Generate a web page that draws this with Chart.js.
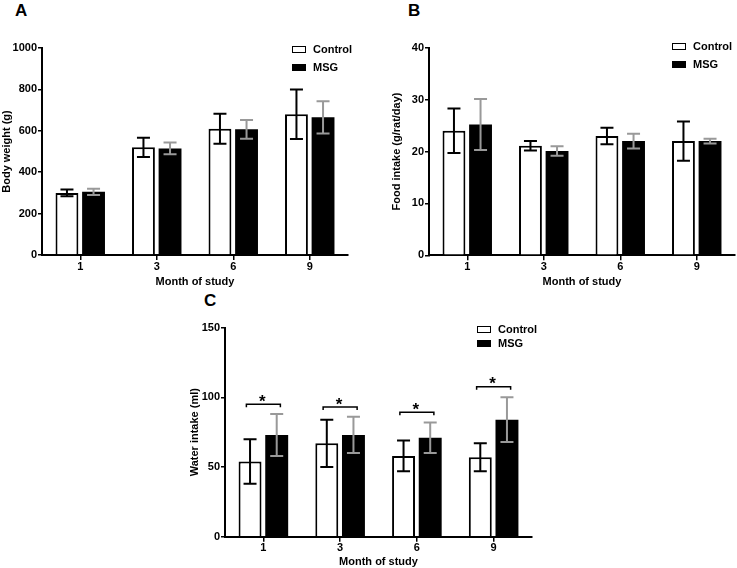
<!DOCTYPE html>
<html>
<head>
<meta charset="utf-8">
<script src="https://cdn.jsdelivr.net/npm/chart.js@4.4.1/dist/chart.umd.min.js"></script>
<style>
  body { margin: 0; background: #fff; font-family: Arial, "Liberation Sans", sans-serif; }
  #page { position: relative; width: 737px; height: 568px; overflow: hidden; }
  .panel { position: absolute; }
  .letter { position: absolute; font-size: 17px; font-weight: bold; line-height: 17px; }
  .lg-box { position: absolute; width: 14px; height: 7px; box-sizing: border-box; }
  .lg-text { position: absolute; font-size: 11px; font-weight: bold; line-height: 13px; white-space: nowrap; }
</style>
</head>
<body>
<div id="page">
  <div class="letter" style="left:15px;top:2px">A</div>
  <div class="letter" style="left:408px;top:2px">B</div>
  <div class="letter" style="left:204px;top:292px">C</div>
  <div class="panel" style="left:0;top:0"><canvas id="chartA" width="360" height="290"></canvas></div>
  <div class="panel" style="left:370px;top:0"><canvas id="chartB" width="367" height="290"></canvas></div>
  <div class="panel" style="left:180px;top:280px"><canvas id="chartC" width="360" height="289"></canvas></div>
</div>
<script>
// categories
var months = ['1', '3', '6', '9'];
var seriesNames = ['Control', 'MSG'];

// A - body weight (g)
var bwControl = [300, 520, 610, 680];
var bwControlErr = [16, 46, 72, 120];
var bwMsg = [305, 515, 607, 665];
var bwMsgErr = [15, 28, 45, 78];

// B - food intake (g/rat/day)
var fiControl = [24, 21.1, 23, 22];
var fiControlErr = [4.3, 0.9, 1.6, 3.8];
var fiMsg = [25.2, 20.1, 22, 22];
var fiMsgErr = [4.9, 0.9, 1.4, 0.45];

// C - water intake (ml)
var wiControl = [54, 67, 58, 57];
var wiControlErr = [16, 17, 11, 10];
var wiMsg = [73, 73, 71, 84];
var wiMsgErr = [15, 13, 11, 16];
var wiBracket = [95, 93, 89.3, 107.7];

Chart.defaults.font = { family: 'Arial, "Liberation Sans", sans-serif', size: 11, weight: 'bold' };
Chart.defaults.color = '#000';

var errorBars = {
    id: 'errorBars',
    afterDatasetsDraw: function (chart) {
        var ctx = chart.ctx, y = chart.scales.y;
        chart.data.datasets.forEach(function (ds, i) {
            if (!ds.errors) return;
            var meta = chart.getDatasetMeta(i);
            ctx.save();
            ctx.strokeStyle = ds.errorColor;
            ctx.lineWidth = 2;
            meta.data.forEach(function (bar, j) {
                var top = y.getPixelForValue(ds.data[j] + ds.errors[j]);
                var bot = y.getPixelForValue(ds.data[j] - ds.errors[j]);
                ctx.beginPath();
                ctx.moveTo(bar.x, top); ctx.lineTo(bar.x, bot);
                ctx.moveTo(bar.x - 6.5, top); ctx.lineTo(bar.x + 6.5, top);
                ctx.moveTo(bar.x - 6.5, bot); ctx.lineTo(bar.x + 6.5, bot);
                ctx.stroke();
            });
            ctx.restore();
        });
    }
};

// significance brackets with asterisk
var brackets = {
    id: 'brackets',
    afterDatasetsDraw: function (chart, args, opts) {
        if (!opts.levels) return;
        var ctx = chart.ctx, x = chart.scales.x, y = chart.scales.y;
        ctx.save();
        ctx.strokeStyle = '#000';
        ctx.lineWidth = 1.5;
        ctx.fillStyle = '#000';
        ctx.font = 'bold 17px Arial, "Liberation Sans", sans-serif';
        ctx.textAlign = 'center';
        ctx.textBaseline = 'alphabetic';
        opts.levels.forEach(function (lvl, j) {
            var cx = x.getPixelForValue(j), py = y.getPixelForValue(lvl);
            ctx.beginPath();
            ctx.moveTo(cx - 17, py + 3); ctx.lineTo(cx - 17, py);
            ctx.lineTo(cx + 17, py); ctx.lineTo(cx + 17, py + 3);
            ctx.stroke();
            ctx.fillText('*', cx - 1, py + 2.5);
        });
        ctx.restore();
    }
};

function makeChart(id, cfg) {
    return new Chart(document.getElementById(id), {
        type: 'bar',
        data: {
            labels: months,
            datasets: [{
                label: seriesNames[0],
                data: cfg.control,
                errors: cfg.controlErr,
                errorColor: '#000',
                backgroundColor: '#fff',
                borderColor: '#000',
                borderWidth: 2,
                borderSkipped: 'start',
                categoryPercentage: 0.695,
                barPercentage: 0.86
            }, {
                label: seriesNames[1],
                data: cfg.msg,
                errors: cfg.msgErr,
                errorColor: '#999',
                backgroundColor: '#000',
                borderWidth: 0,
                categoryPercentage: 0.695,
                barPercentage: 0.86
            }]
        },
        options: {
            responsive: false,
            animation: false,
            devicePixelRatio: 1,
            layout: { padding: cfg.padding },
            plugins: {
                legend: { display: false },
                tooltip: { enabled: false },
                brackets: { levels: cfg.brackets }
            },
            scales: {
                x: {
                    grid: { display: true, drawOnChartArea: false, offset: false, tickLength: 5, color: '#000', lineWidth: 1.5 },
                    border: { display: true, color: '#000', width: 2 },
                    ticks: { padding: 0 },
                    title: { display: true, text: 'Month of study', padding: 0 },
                    afterFit: function (s) { s.height = cfg.xHeight; }
                },
                y: {
                    min: 0,
                    max: cfg.max,
                    ticks: { stepSize: cfg.step, padding: 1, callback: function (v) { return String(v); } },
                    grid: { display: true, drawOnChartArea: false, tickLength: 4, color: '#000', lineWidth: 1.5 },
                    border: { display: true, color: '#000', width: 2 },
                    title: { display: true, text: cfg.yTitle, padding: 0 },
                    afterFit: function (s) { s.width = cfg.yWidth; }
                }
            }
        },
        plugins: [errorBars, brackets]
    });
}

makeChart('chartA', {
    control: bwControl, controlErr: bwControlErr, msg: bwMsg, msgErr: bwMsgErr,
    max: 1000, step: 200, yTitle: 'Body weight (g)',
    padding: { left: 0, top: 48, right: 12, bottom: 1.7 }, yWidth: 42, xHeight: 33.3
});
makeChart('chartB', {
    control: fiControl, controlErr: fiControlErr, msg: fiMsg, msgErr: fiMsgErr,
    max: 40, step: 10, yTitle: 'Food intake (g/rat/day)',
    padding: { left: 20.4, top: 47.7, right: 2, bottom: 1.7 }, yWidth: 38.6, xHeight: 33
});
makeChart('chartC', {
    control: wiControl, controlErr: wiControlErr, msg: wiMsg, msgErr: wiMsgErr,
    max: 150, step: 50, yTitle: 'Water intake (ml)', brackets: wiBracket,
    padding: { left: 8.4, top: 47.7, right: 8, bottom: 0.7 }, yWidth: 36.6, xHeight: 31.6
});

// legends
function addLegend(left, top, gap) {
    var page = document.getElementById('page');
    seriesNames.forEach(function (name, i) {
        var cy = top + i * gap;
        var box = document.createElement('div');
        box.className = 'lg-box';
        box.style.left = left + 'px';
        box.style.top = (cy - 3.5) + 'px';
        box.style.background = i === 0 ? '#fff' : '#000';
        box.style.border = '1.5px solid #000';
        page.appendChild(box);
        var txt = document.createElement('div');
        txt.className = 'lg-text';
        txt.style.left = (left + 21) + 'px';
        txt.style.top = (cy - 6.5) + 'px';
        txt.textContent = name;
        page.appendChild(txt);
    });
}
addLegend(292, 49.5, 18);
addLegend(672, 46.5, 17.5);
addLegend(477, 329.5, 13.5);
</script>
</body>
</html>
